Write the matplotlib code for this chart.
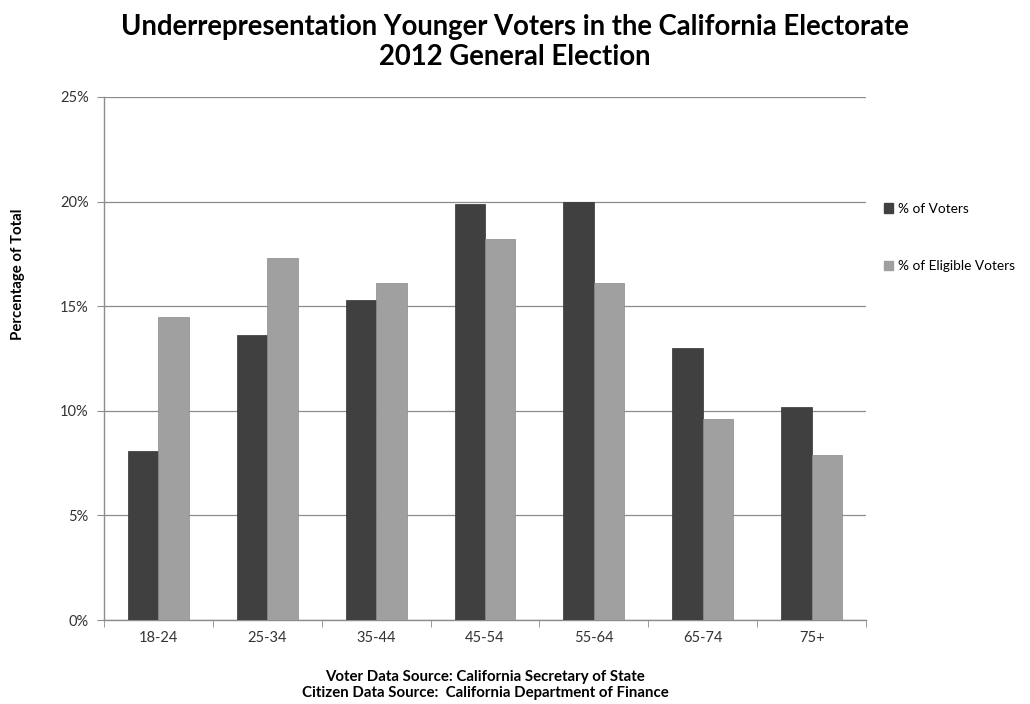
import matplotlib.pyplot as plt
import numpy as np
from matplotlib.patches import Patch
from matplotlib.ticker import FuncFormatter

plt.rcParams["font.family"] = ["Lato", "DejaVu Sans"]

age_groups = ["18-24", "25-34", "35-44", "45-54", "55-64", "65-74", "75+"]
pct_voters = [8.1, 13.6, 15.3, 19.9, 20.0, 13.0, 10.2]
pct_eligible = [14.5, 17.3, 16.1, 18.2, 16.1, 9.6, 7.9]

DARK = "#404040"
LIGHT = "#a0a0a0"
GRID = "#8c8c8c"


def main():
    fig = plt.figure(figsize=(10.3, 7.04), dpi=100)
    ax = fig.add_axes([104 / 1030, 1 - 620 / 704, 762 / 1030, 523 / 704])

    x = np.arange(len(age_groups))
    w = 0.28
    ax.bar(x - w / 2, pct_voters, w, color=DARK, edgecolor="#333333", linewidth=0.5, zorder=3)
    ax.bar(x + w / 2, pct_eligible, w, color=LIGHT, edgecolor="#8a8a8a", linewidth=0.5, zorder=3)

    ax.set_xlim(-0.5, len(age_groups) - 0.5)
    ax.set_ylim(0, 25)
    ax.set_yticks(range(0, 26, 5))
    ax.yaxis.set_major_formatter(FuncFormatter(lambda v, p: f"{v:.0f}%"))
    ax.set_xticks(x)
    ax.set_xticklabels(age_groups)
    ax.set_xticks(np.arange(-0.5, len(age_groups), 1), minor=True)
    ax.tick_params(axis="x", which="major", length=0, pad=8)
    ax.tick_params(axis="x", which="minor", length=5, color=GRID, direction="out")
    ax.tick_params(axis="y", length=5, color=GRID, direction="out", pad=6)
    ax.tick_params(labelsize=10.5, labelcolor="#333333")

    ax.grid(axis="y", color=GRID, linewidth=0.9, zorder=0)
    for s in ["top", "right"]:
        ax.spines[s].set_visible(False)
    for s in ["left", "bottom"]:
        ax.spines[s].set_color(GRID)
        ax.spines[s].set_linewidth(1.0)

    fig.text(0.5, 1 - 42 / 704, "Underrepresentation Younger Voters in the California Electorate\n2012 General Election",
             ha="center", va="center", fontsize=19.8, fontweight="bold", linespacing=1.15, color="black")
    fig.text(18 / 1030, 1 - 274 / 704, "Percentage of Total", rotation=90, ha="center", va="center",
             fontsize=10.8, fontweight="bold")
    fig.text(485 / 1030, 1 - 685 / 704,
             "Voter Data Source: California Secretary of State\nCitizen Data Source:  California Department of Finance",
             ha="center", va="center", fontsize=10.8, fontweight="bold", linespacing=1.25)

    handles = [Patch(facecolor=DARK, edgecolor=DARK), Patch(facecolor=LIGHT, edgecolor=LIGHT)]
    fig.legend(handles, ["% of Voters", "% of Eligible Voters"], loc="upper left",
               bbox_to_anchor=(874 / 1030, 1 - 193 / 704), frameon=False, fontsize=9.8,
               handlelength=0.7, handleheight=0.7, handletextpad=0.4, labelspacing=3.35,
               borderaxespad=0.3)

    fig.savefig("out.png", dpi=100)


if __name__ == "__main__":
    main()
